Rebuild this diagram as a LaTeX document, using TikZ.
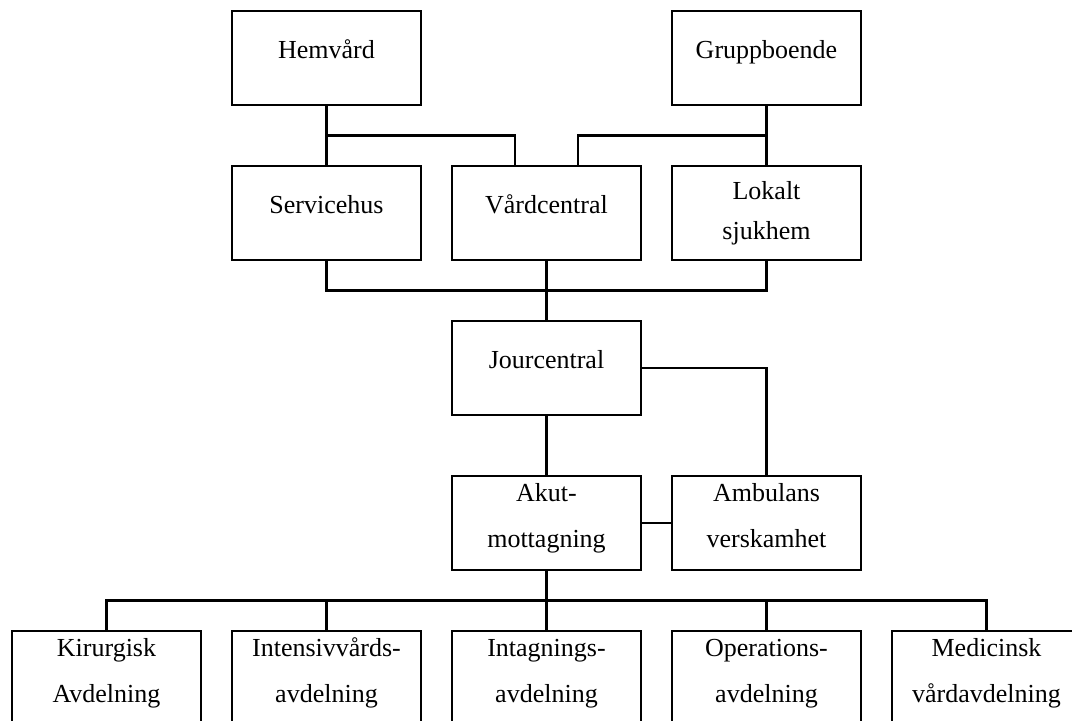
\documentclass[tikz,border=0pt]{standalone}
\usepackage{fontspec}
\setmainfont{Liberation Serif}
\usetikzlibrary{calc}

\begin{document}
\begin{tikzpicture}[x=0.5pt, y=0.5pt, node distance=77.5pt, every node/.style={font=\fontsize{13}{23}\selectfont}]

% Define styles for the chart
\tikzstyle{unit} = [rectangle, minimum width=94.5pt, minimum height=47pt, inner sep=2pt, align=center, draw=black, line width=1.3pt]
\tikzstyle{oneline} = [unit, text height=9pt, text depth=9pt]
\tikzstyle{twoline} = [unit, text height=28pt, text depth=4pt]
\tikzstyle{link} = [line width=1.3pt]

\useasboundingbox (0,0) rectangle (1072,720);
\clip (0,0) rectangle (1072,720);

% Nodes
\node (jour) [oneline] at (546.5,352) {Jourcentral};
\node (vard) [oneline, above of=jour] {Vårdcentral};
\node (serv) [oneline, node distance=110pt, left of=vard] {Servicehus};
\node (lokalt) [unit, node distance=110pt, right of=vard] {Lokalt\\[-3pt]sjukhem};
\node (hem) [oneline, above of=serv] {Hemvård};
\node (grupp) [oneline, above of=lokalt] {Gruppboende};
\node (akut) [twoline, below of=jour] {Akut-\\mottagning};
\node (amb) [twoline, node distance=110pt, right of=akut] {Ambulans\\verskamhet};
\node (intag) [twoline, below of=akut] {Intagnings-\\avdelning};
\node (intens) [twoline, node distance=110pt, left of=intag] {Intensivvårds-\\avdelning};
\node (kir) [twoline, node distance=110pt, left of=intens] {Kirurgisk\\Avdelning};
\node (oper) [twoline, node distance=110pt, right of=intag] {Operations-\\avdelning};
\node (med) [twoline, node distance=110pt, right of=oper] {Medicinsk\\vårdavdelning};

% Connectors
\draw [link] (hem) -- (serv);
\draw [link] (grupp) -- (lokalt);
\draw [link] ([xshift=-15.75pt]vard.north) |- ($(hem.south)!0.5!(serv.north)$);
\draw [link] ([xshift=15.75pt]vard.north) |- ($(grupp.south)!0.5!(lokalt.north)$);
\draw [link] (vard) -- (jour);
\foreach \n in {serv, lokalt}
  \draw [link] (\n.south) |- ($(vard.south)!0.5!(jour.north)$);
\draw [link] (jour.east) -| (amb.north);
\draw [link] (jour) -- (akut);
\draw [link] (akut) -- (amb);
\draw [link] (akut) -- (intag);
\foreach \n in {kir, intens, oper, med}
  \draw [link] (\n.north) |- ($(akut.south)!0.5!(intag.north)$);

\end{tikzpicture}
\end{document}
